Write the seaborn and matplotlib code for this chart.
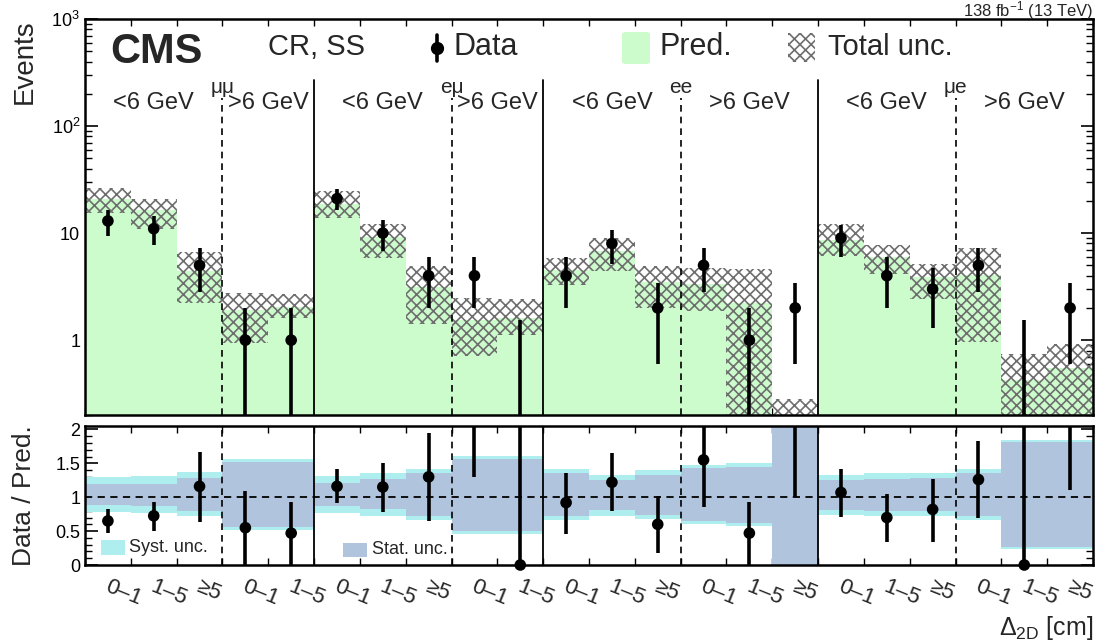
import numpy as np
import pandas as pd
import matplotlib
matplotlib.use("Agg")
import matplotlib.pyplot as plt
import matplotlib.patches as mpatches
from matplotlib.ticker import FixedLocator, NullFormatter, MultipleLocator
import seaborn as sns

# ---------------- data ----------------
channels = ["μμ", "eμ", "ee", "μe"]
channel_nbins = [5, 5, 6, 6]
mass_labels = ["<6 GeV", ">6 GeV"]
mass_nbins = [[3, 2], [3, 2], [3, 3], [3, 3]]
bin_labels = ["0–1", "1–5", "≥5", "0–1", "1–5",
              "0–1", "1–5", "≥5", "0–1", "1–5",
              "0–1", "1–5", "≥5", "0–1", "1–5", "≥5",
              "0–1", "1–5", "≥5", "0–1", "1–5", "≥5"]

pred = [21, 16.4, 4.46, 1.92, 2.05, 18.75, 9.1, 3.17, 1.53, 1.6,
        4.5, 6.8, 3.5, 3.33, 2.2, 0.19, 8.65, 6.0, 3.85, 4.1, 0.42, 0.55]
unc_lo = [15.4, 10.9, 2.22, 0.94, 1.6, 13.8, 5.84, 1.41, 0.71, 1.11,
          3.26, 4.4, 1.99, 1.87, 0.01, 0.01, 6.1, 4.14, 2.42, 0.96, 0.01, 0.01]
unc_hi = [26.3, 20.8, 6.64, 2.75, 2.69, 24.7, 12.1, 4.9, 2.47, 2.42,
          5.84, 8.97, 4.9, 4.7, 4.6, 0.28, 12.1, 7.7, 5.13, 7.2, 0.74, 0.92]

data = [13, 11, 5, 1, 1, 21, 10, 4, 4, 0, 4, 8, 2, 5, 1, 2, 9, 4, 3, 5, 0, 2]
data_err_lo = [3.6, 3.3, 2.2, 1.0, 1.0, 4.6, 3.2, 2.0, 2.0, 0.0, 2.0, 2.8,
               1.4, 2.2, 1.0, 1.4, 3.0, 2.0, 1.7, 2.2, 0.0, 1.4]
data_err_hi = [3.6, 3.3, 2.2, 1.0, 1.0, 4.6, 3.2, 2.0, 2.0, 1.55, 2.0, 2.8,
               1.4, 2.2, 1.0, 1.4, 3.0, 2.0, 1.7, 2.2, 1.55, 1.4]

ratio = [0.65, 0.725, 1.16, 0.55, 0.47, 1.16, 1.15, 1.30, np.nan, 0.0,
         0.92, 1.22, 0.60, 1.55, 0.47, np.nan, 1.07, 0.70, 0.82, 1.26, 0.0, np.nan]
ratio_lo = [0.47, 0.50, 0.64, 0.0, 0.0, 0.91, 0.78, 0.65, 1.30, 0.0,
            0.46, 0.79, 0.17, 0.86, 0.0, 1.0, 0.71, 0.34, 0.34, 0.70, 0.0, 1.11]
ratio_hi = [0.82, 0.93, 1.67, 1.09, 0.93, 1.41, 1.50, 1.95, 3.0, 3.0,
            1.36, 1.65, 1.02, 3.0, 0.93, 3.0, 1.42, 1.04, 1.27, 1.83, 3.0, 3.0]

syst_lo = [0.78, 0.77, 0.72, 0.52, 0.52, 0.77, 0.73, 0.67, 0.46, 0.46, 0.67,
           0.73, 0.68, 0.60, 0.58, 0.0, 0.74, 0.73, 0.72, 0.66, 0.24, 0.24]
syst_hi = [1.30, 1.31, 1.37, 1.56, 1.56, 1.31, 1.35, 1.41, 1.61, 1.61, 1.41,
           1.33, 1.40, 1.48, 1.51, 3.0, 1.33, 1.35, 1.36, 1.42, 1.84, 1.84]
stat_lo = [0.89, 0.87, 0.79, 0.56, 0.56, 0.87, 0.82, 0.73, 0.50, 0.50, 0.73,
           0.81, 0.74, 0.65, 0.62, 0.0, 0.81, 0.80, 0.79, 0.72, 0.27, 0.27]
stat_hi = [1.19, 1.20, 1.28, 1.52, 1.52, 1.21, 1.27, 1.35, 1.57, 1.57, 1.35,
           1.25, 1.33, 1.43, 1.45, 3.0, 1.26, 1.27, 1.28, 1.36, 1.81, 1.81]

# ---------------- style ----------------
sns.set_theme(style="ticks")
plt.rcParams["font.family"] = ["Liberation Sans", "DejaVu Sans"]
plt.rcParams["mathtext.fontset"] = "custom"
plt.rcParams["mathtext.rm"] = "Liberation Sans"
plt.rcParams["mathtext.it"] = "Liberation Sans:italic"
plt.rcParams["mathtext.bf"] = "Liberation Sans:bold"
plt.rcParams["hatch.linewidth"] = 1.2
plt.rcParams["hatch.color"] = "#6e6e6e"

GREEN = "#ccfccc"
CYAN = "#afeeee"
BLUE = "#b0c4de"
HATCH = "#6e6e6e"

W, H = 1106, 641
fig = plt.figure(figsize=(W / 100, H / 100), dpi=100)
L, R = 85, 1093
ax = fig.add_axes([L / W, 1 - 415 / H, (R - L) / W, (415 - 19) / H])
rax = fig.add_axes([L / W, 1 - 565 / H, (R - L) / W, (565 - 426) / H])

nb = len(pred)
edges = np.arange(nb + 1)
centers = edges[:-1] + 0.5
df = pd.DataFrame({"x": centers, "data": data, "pred": pred,
                   "lo": unc_lo, "hi": unc_hi, "ratio": ratio})

# ---- top panel ----
ax.bar(edges[:-1], df["pred"], width=1.0, align="edge", bottom=1e-3,
       color=GREEN, linewidth=0, zorder=1)
ax.bar(edges[:-1], df["hi"] - df["lo"], width=1.0, align="edge",
       bottom=df["lo"], facecolor="none", edgecolor=HATCH, hatch="xxx",
       linewidth=0, zorder=2)
lo_bar = np.maximum(np.array(data) - np.array(data_err_lo), 1e-3)
ax.vlines(centers, lo_bar, np.array(data) + np.array(data_err_hi),
          color="black", lw=2.6, zorder=4)
pos = df[df["data"] > 0]
sns.scatterplot(data=pos, x="x", y="data", ax=ax, color="black", s=70,
                edgecolor="none", zorder=5, legend=False)
ax.set_yscale("log")
ax.set_ylim(0.2, 1000)
ax.set_xlim(0, nb)

# separators
solid_pos = np.cumsum(channel_nbins)[:-1]
dash_pos = []
start = 0
for cn, mn in zip(channel_nbins, mass_nbins):
    dash_pos.append(start + mn[0])
    start += cn
for x in solid_pos:
    ax.axvline(x, ymin=0, ymax=0.845, color="black", lw=1.3, zorder=3)
    rax.axvline(x, color="black", lw=1.3, zorder=3)
for x in dash_pos:
    ax.axvline(x, ymin=0, ymax=0.80, color="black", lw=1.2, ls=(0, (4, 3)), zorder=3)
    rax.axvline(x, color="black", lw=1.2, ls=(0, (4, 3)), zorder=3)

# region labels
start = 0
for name, cn, mn in zip(channels, channel_nbins, mass_nbins):
    xd = start + mn[0]
    ax.text(xd, 0.826, name, transform=ax.get_xaxis_transform(), ha="center",
            va="center", fontsize=15)
    ax.text(start + mn[0] / 2, 0.788, mass_labels[0], transform=ax.get_xaxis_transform(),
            ha="center", va="center", fontsize=17)
    ax.text(xd + mn[1] / 2, 0.788, mass_labels[1], transform=ax.get_xaxis_transform(),
            ha="center", va="center", fontsize=17)
    start += cn

# axis formatting top
ax.yaxis.set_major_locator(FixedLocator([1, 10, 100, 1000]))
ax.set_yticklabels(["1", "10", "$10^{2}$", "$10^{3}$"])
ax.yaxis.set_minor_locator(FixedLocator(
    [m * 10 ** e for e in range(-1, 3) for m in range(2, 10) if 0.2 <= m * 10 ** e <= 1000]))
ax.yaxis.set_minor_formatter(NullFormatter())
ax.set_xticks(edges)
ax.set_xticklabels([])
ax.tick_params(axis="both", which="both", direction="in", top=True, right=True,
               labelsize=13, color="black", labelcolor="black")
ax.tick_params(axis="y", which="major", length=9, width=1.2)
ax.tick_params(axis="y", which="minor", length=5, width=1.0)
ax.tick_params(axis="x", which="major", length=5, width=1.0)
ax.set_ylabel("Events", fontsize=20, loc="top", labelpad=10)
for s in ax.spines.values():
    s.set_linewidth(1.8)
    s.set_color("black")

# ---- ratio panel ----
rax.bar(edges[:-1], np.array(syst_hi) - np.array(syst_lo), width=1.0, align="edge",
        bottom=syst_lo, color=CYAN, linewidth=0, zorder=1)
rax.bar(edges[:-1], np.array(stat_hi) - np.array(stat_lo), width=1.0, align="edge",
        bottom=stat_lo, color=BLUE, linewidth=0, zorder=1.5)
rax.axhline(1.0, color="black", lw=1.3, ls=(0, (4, 3)), zorder=2)
rax.vlines(centers, ratio_lo, ratio_hi, color="black", lw=2.6, zorder=4)
sns.scatterplot(data=df, x="x", y="ratio", ax=rax, color="black", s=70,
                edgecolor="none", zorder=5, legend=False, clip_on=False)
rax.set_xlim(0, nb)
rax.set_ylim(0, 2.05)
rax.set_xticks(edges)
rax.set_xticklabels([])
rax.yaxis.set_major_locator(FixedLocator([0, 0.5, 1, 1.5, 2]))
rax.set_yticklabels(["0", "0.5", "1", "1.5", "2"])
rax.yaxis.set_minor_locator(MultipleLocator(0.1))
rax.tick_params(axis="both", which="both", direction="in", top=True, right=True,
                labelsize=13, color="black", labelcolor="black")
rax.tick_params(axis="y", which="major", length=9, width=1.2)
rax.tick_params(axis="y", which="minor", length=5, width=1.0)
rax.tick_params(axis="x", which="major", length=5, width=1.0)
rax.set_xlabel("")
rax.set_ylabel("Data / Pred.", fontsize=19, labelpad=14)
for s in rax.spines.values():
    s.set_linewidth(1.8)
    s.set_color("black")

for xc, lab in zip(centers, bin_labels):
    rax.text(xc + 0.04, -0.08, lab, transform=rax.get_xaxis_transform(),
             ha="left", va="top", rotation=-22, rotation_mode="anchor", fontsize=16)

fig.text(R / W, 1 - 628 / H, r"Δ$_{\mathrm{2D}}$ [cm]", ha="right", va="center",
         fontsize=18)

# ratio legend
fig.patches.append(mpatches.Rectangle((101 / W, 1 - 555 / H), 24 / W, 15 / H,
                                      transform=fig.transFigure, color=CYAN, lw=0))
fig.text(129 / W, 1 - 548 / H, "Syst. unc.", fontsize=13, va="center")
fig.patches.append(mpatches.Rectangle((343 / W, 1 - 557 / H), 24 / W, 14 / H,
                                      transform=fig.transFigure, color=BLUE, lw=0))
fig.text(372 / W, 1 - 550 / H, "Stat. unc.", fontsize=13, va="center")

# top legend & labels
fig.text(110 / W, 1 - 52 / H, "CMS", fontsize=30, fontweight="bold", va="center")
fig.text(268 / W, 1 - 47 / H, "CR, SS", fontsize=21, va="center")
fig.add_artist(plt.Line2D([437 / W, 437 / W], [1 - 35 / H, 1 - 61 / H],
                          transform=fig.transFigure, color="black", lw=2.6))
fig.add_artist(plt.Line2D([437 / W], [1 - 48 / H], transform=fig.transFigure,
                          marker="o", color="black", markersize=8.5))
fig.text(453 / W, 1 - 47 / H, "Data", fontsize=22, va="center")
fig.patches.append(mpatches.FancyBboxPatch((622 / W, 1 - 64 / H), 28 / W, 32 / H,
                                           boxstyle="round,pad=0,rounding_size=0.004",
                                           transform=fig.transFigure, color=GREEN, lw=0))
fig.text(660 / W, 1 - 47 / H, "Pred.", fontsize=22, va="center")
fig.patches.append(mpatches.Rectangle((788 / W, 1 - 62 / H), 27 / W, 29 / H,
                                      transform=fig.transFigure, facecolor="none",
                                      edgecolor=HATCH, hatch="xxx", lw=0))
fig.text(828 / W, 1 - 47 / H, "Total unc.", fontsize=21, va="center")
fig.text(R / W, 1 - 16 / H, r"138 fb$^{-1}$ (13 TeV)", fontsize=12, ha="right",
         va="baseline")

fig.savefig("out.png", dpi=100)
